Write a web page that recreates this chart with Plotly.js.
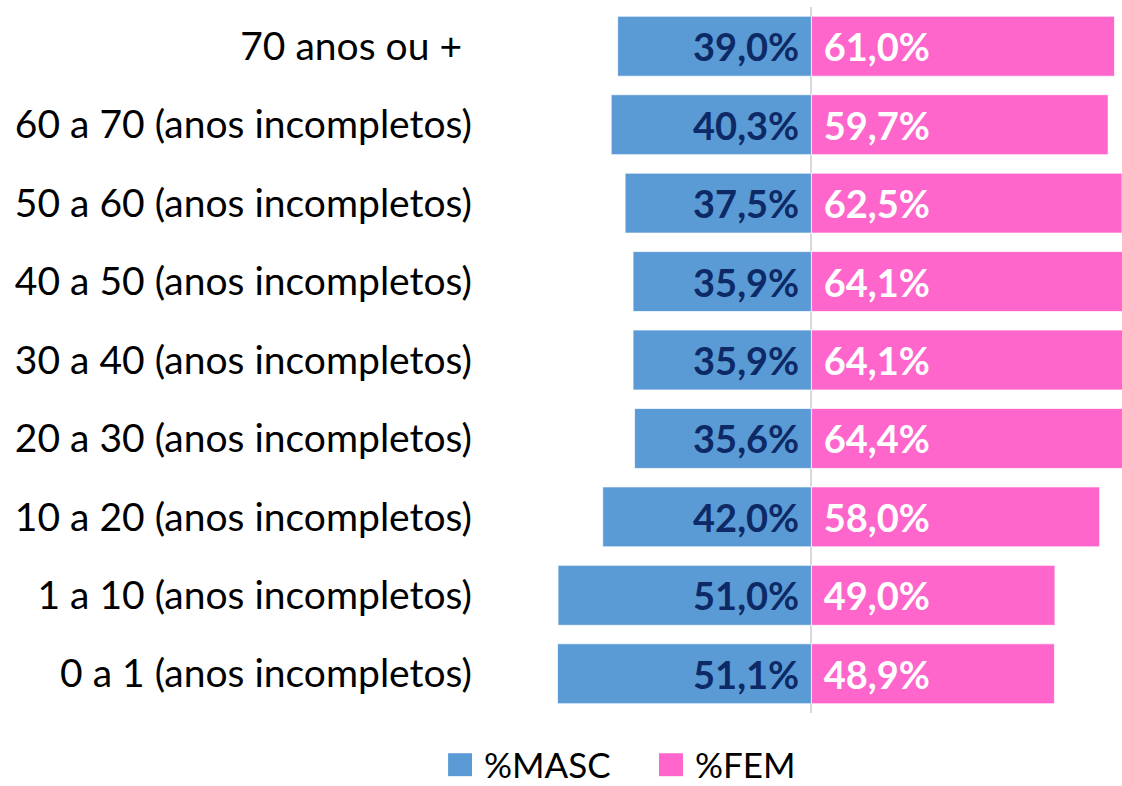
<!DOCTYPE html>
<html>
<head>
<meta charset="utf-8">
<script src="https://cdn.plot.ly/plotly-3.0.1.min.js"></script>
<style>html,body{margin:0;padding:0;background:#fff;}#chart{width:1122px;height:786px;}</style>
</head>
<body>
<div id="chart"></div>
<script>
const categories = [
  "70 anos ou +\u00A0",
  "60 a 70 (anos incompletos)",
  "50 a 60 (anos incompletos)",
  "40 a 50 (anos incompletos)",
  "30 a 40 (anos incompletos)",
  "20 a 30 (anos incompletos)",
  "10 a 20 (anos incompletos)",
  "1 a 10 (anos incompletos)",
  "0 a 1 (anos incompletos)"
];
const masc = [39.0, 40.3, 37.5, 35.9, 35.9, 35.6, 42.0, 51.0, 51.1];
const fem  = [61.0, 59.7, 62.5, 64.1, 64.1, 64.4, 58.0, 49.0, 48.9];
const seriesNames = ['%MASC', '%FEM'];
const seriesColors = ['#5B9BD5', '#FF66CC'];

const fmt = v => v.toFixed(1).replace('.', ',') + '%';

const traces = [
  {
    type: 'bar', orientation: 'h', name: seriesNames[0],
    y: categories, x: masc.map(v => -v),
    text: masc.map(v => fmt(v) + '\u00A0'),
    textposition: 'inside', insidetextanchor: 'start',
    textfont: {family: 'Lato, sans-serif', size: 38, color: '#0D2A66', weight: 'bold'},
    marker: {color: seriesColors[0], line: {color: 'rgba(255,255,255,0.7)', width: 1}},
    hoverinfo: 'skip', showlegend: false
  },
  {
    type: 'bar', orientation: 'h', name: seriesNames[1],
    y: categories, x: fem,
    text: fem.map(v => '\u00A0' + fmt(v)),
    textposition: 'inside', insidetextanchor: 'start',
    textfont: {family: 'Lato, sans-serif', size: 38, color: '#FFFFFF', weight: 'bold'},
    marker: {color: seriesColors[1], line: {color: 'rgba(255,255,255,0.7)', width: 1}},
    hoverinfo: 'skip', showlegend: false
  }
];

// legend drawn as swatches + labels (layout only, below the plot area)
const legendShapes = [
  {type: 'rect', xref: 'paper', yref: 'paper', x0: -0.053, x1: -0.0156, y0: -0.0895, y1: -0.057,
   fillcolor: seriesColors[0], line: {width: 0}},
  {type: 'rect', xref: 'paper', yref: 'paper', x0: 0.2766, x1: 0.314, y0: -0.0895, y1: -0.057,
   fillcolor: seriesColors[1], line: {width: 0}}
];
const legendAnn = [
  {xref: 'paper', yref: 'paper', x: 0.0016, y: -0.0725, xanchor: 'left', yanchor: 'middle',
   text: seriesNames[0], showarrow: false, borderpad: 0, font: {family: 'Lato, sans-serif', size: 35, color: '#000'}},
  {xref: 'paper', yref: 'paper', x: 0.331, y: -0.0725, xanchor: 'left', yanchor: 'middle',
   text: seriesNames[1], showarrow: false, borderpad: 0, font: {family: 'Lato, sans-serif', size: 35, color: '#000'}}
];

const layout = {
  width: 1122, height: 786,
  margin: {l: 482, r: 0, t: 7, b: 73},
  paper_bgcolor: '#fff', plot_bgcolor: '#fff',
  barmode: 'relative', bargap: 0.236,
  font: {family: 'Lato, sans-serif', color: '#000'},
  xaxis: {
    range: [-66.3, 62.5], showgrid: false, showticklabels: false, ticks: '',
    zeroline: true, zerolinecolor: '#D9D9D9', zerolinewidth: 2, layer: 'above traces',
    fixedrange: true
  },
  yaxis: {
    autorange: 'reversed', showgrid: false, zeroline: false, ticks: '',
    tickfont: {family: 'Lato, sans-serif', size: 39, color: '#000'},
    automargin: false, ticklabelstandoff: 9, fixedrange: true
  },
  showlegend: false,
  shapes: legendShapes,
  annotations: legendAnn
};

Plotly.newPlot('chart', traces, layout, {displayModeBar: false, staticPlot: true});
</script>
</body>
</html>
